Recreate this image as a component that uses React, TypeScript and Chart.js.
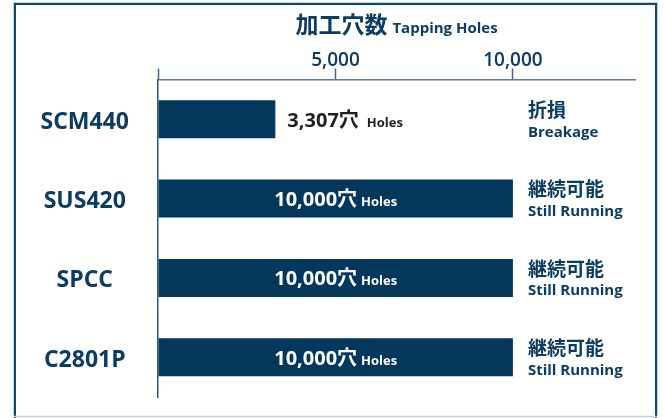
import React, { useEffect, useRef } from 'react';
import { Chart, registerables } from 'chart.js';

Chart.register(...registerables);

const categories = ['SCM440', 'SUS420', 'SPCC', 'C2801P'];
const holes = [3307, 10000, 10000, 10000];
const valueLabels = ['3,307穴', '10,000穴', '10,000穴', '10,000穴'];
const unitLabel = 'Holes';
const statusJa = ['折損', '継続可能', '継続可能', '継続可能'];
const statusEn = ['Breakage', 'Still Running', 'Still Running', 'Still Running'];
const tickValues = [0, 5000, 10000];
const axisMax = 13440;
const titleJa = '加工穴数';
const titleEn = 'Tapping Holes';

const BAR = '#03375c';
const NAVY = '#0c3c62';
const DARK = '#231f20';
const LATIN = '"Open Sans", "Noto Sans CJK JP", sans-serif';
const CJK = '"Noto Sans CJK JP", "Open Sans", sans-serif';

const overlay = {
  id: 'overlay',
  beforeDraw(chart: any) {
    const ctx = chart.ctx;
    ctx.save();
    ctx.strokeStyle = '#c8d1da';
    ctx.lineWidth = 1;
    ctx.strokeRect(13.5, 2.5, 644, 414);
    ctx.strokeStyle = '#0b4875';
    ctx.lineWidth = 2;
    ctx.beginPath();
    ctx.moveTo(15, 418);
    ctx.lineTo(15, 4);
    ctx.lineTo(656, 4);
    ctx.lineTo(656, 418);
    ctx.stroke();
    ctx.strokeStyle = '#c8d1da';
    ctx.lineWidth = 1.5;
    ctx.beginPath();
    ctx.moveTo(14, 416.5);
    ctx.lineTo(657, 416.5);
    ctx.stroke();
    ctx.restore();
  },
  afterDatasetsDraw(chart: any) {
    const ctx = chart.ctx;
    const area = chart.chartArea;
    const xs = chart.scales.x;
    ctx.save();
    // title
    ctx.textBaseline = 'alphabetic';
    ctx.fillStyle = NAVY;
    ctx.font = `700 23px ${CJK}`;
    const tw1 = ctx.measureText(titleJa).width;
    ctx.font = `700 15px ${LATIN}`;
    const tw2 = ctx.measureText(titleEn).width;
    const tgap = 5;
    const tcx = (area.left + area.right) / 2;
    const tx = tcx - (tw1 + tgap + tw2) / 2;
    ctx.textAlign = 'left';
    ctx.font = `700 23px ${CJK}`;
    ctx.fillText(titleJa, tx, 33);
    ctx.font = `700 15px ${LATIN}`;
    ctx.fillText(titleEn, tx + tw1 + tgap, 33);

    const meta = chart.getDatasetMeta(0);
    meta.data.forEach((bar: any, i: number) => {
      const { x, y, base } = bar.getProps(['x', 'y', 'base'], true);
      ctx.font = `700 20px ${LATIN}`;
      const w1 = ctx.measureText(valueLabels[i]).width;
      ctx.font = `700 13px ${LATIN}`;
      const w2 = ctx.measureText(unitLabel).width;
      const inside = w1 + w2 + 30 < x - base;
      const gap = inside ? 4 : 8;
      const total = w1 + gap + w2;
      const sx = inside ? (base + x) / 2 - total / 2 : x + 12;
      ctx.fillStyle = inside ? '#ffffff' : DARK;
      ctx.textAlign = 'left';
      ctx.textBaseline = 'alphabetic';
      ctx.font = `700 20px ${LATIN}`;
      ctx.fillText(valueLabels[i], sx, y + 7.5);
      ctx.font = `700 13px ${LATIN}`;
      ctx.fillText(unitLabel, sx + w1 + gap, y + 7.5);

      // status annotations
      const ax = xs.getPixelForValue(10000) + 15;
      ctx.fillStyle = NAVY;
      ctx.textBaseline = 'middle';
      ctx.font = `700 19px ${CJK}`;
      ctx.fillText(statusJa[i], ax, y - 9.5);
      ctx.textBaseline = 'alphabetic';
      ctx.font = `700 15px ${LATIN}`;
      ctx.fillText(statusEn[i], ax, y + 17.5);
    });
    ctx.restore();
  },
};

export default function App() {
  const ref = useRef<HTMLCanvasElement | null>(null);
  useEffect(() => {
    if (!ref.current) return;
    const chart = new Chart(ref.current, {
      type: 'bar',
      data: {
        labels: categories,
        datasets: [
          {
            data: holes,
            backgroundColor: BAR,
            borderWidth: 0,
            barPercentage: 0.48,
            categoryPercentage: 1,
          },
        ],
      },
      options: {
        animation: false,
        responsive: false,
        indexAxis: 'y',
        layout: { padding: { top: 0, right: 29, bottom: 21, left: 0 } },
        plugins: {
          legend: { display: false },
          tooltip: { enabled: false },
          title: { display: false },
        },
        scales: {
          x: {
            position: 'top',
            min: 0,
            max: axisMax,
            afterBuildTicks: (s: any) => {
              s.ticks = tickValues.map((v) => ({ value: v }));
            },
            afterFit: (s: any) => {
              s.height = 79.5;
              s.paddingLeft = 0;
              s.paddingRight = 0;
            },
            grid: {
              drawOnChartArea: false,
              drawTicks: true,
              tickLength: 11,
              tickColor: '#3f678c',
              tickWidth: 1.5,
            },
            border: { display: true, color: '#5a7d9e', width: 1.5 },
            ticks: {
              autoSkip: false,
              maxRotation: 0,
              padding: -3,
              color: NAVY,
              font: { family: LATIN, size: 19, weight: '600' },
              callback: (v: any) => (Number(v) === 0 ? '' : Number(v).toLocaleString('en-US')),
            },
          },
          y: {
            afterFit: (s: any) => {
              s.width = 158;
              s.paddingTop = 0;
              s.paddingBottom = 0;
            },
            grid: { display: false, drawTicks: false },
            border: { display: true, color: '#2c577d', width: 1.5 },
            ticks: {
              crossAlign: 'center',
              padding: 29,
              labelOffset: 3,
              color: NAVY,
              font: { family: LATIN, size: 23, weight: '700' },
            },
          },
        },
      },
      plugins: [overlay],
    } as any);
    return () => chart.destroy();
  }, []);
  return (
    <div style={{ position: 'fixed', left: 0, top: 0, width: 664, height: 418, background: '#ffffff' }}>
      <canvas ref={ref} width={664} height={418} style={{ display: 'block', width: 664, height: 418 }} />
    </div>
  );
}
